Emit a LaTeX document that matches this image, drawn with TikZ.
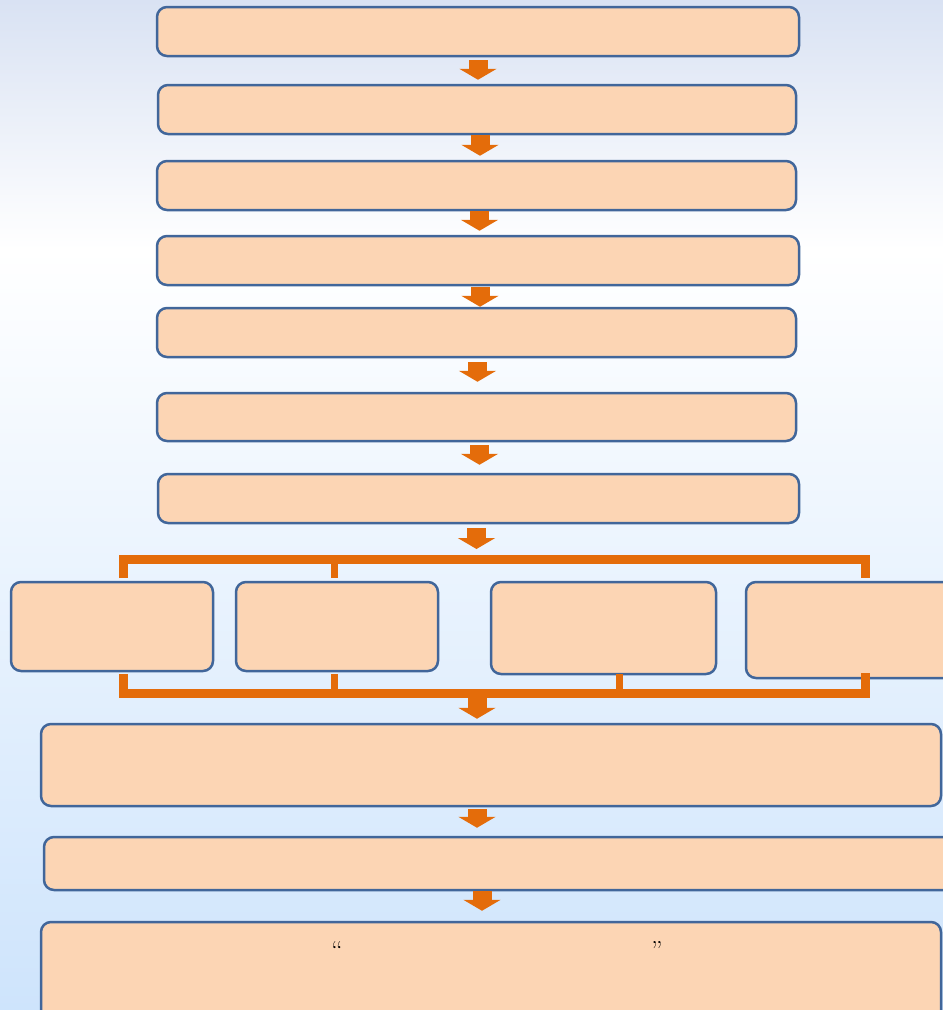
\documentclass[tikz,border=0pt]{standalone}
\usetikzlibrary{arrows.meta,fit}

\definecolor{boxfill}{HTML}{FCD5B4}
\definecolor{boxline}{HTML}{41669A}
\definecolor{flow}{HTML}{E46C0A}
\definecolor{bgtop}{HTML}{D9E2F3}
\definecolor{bgbottom}{HTML}{CEE4FC}

\tikzset{
  stepbox/.style={draw=boxline, fill=boxfill, line width=2.5pt, rounded corners=10pt, inner sep=0pt},
  downarrow/.style={flow, line width=19pt, -{Triangle[width=37pt,length=11pt]}},
  bracketbar/.style={flow, line width=9pt},
  bracketleg/.style={flow, line width=7pt},
}

\begin{document}
\begin{tikzpicture}[x=1pt, y=-1pt]
  % 1. Page and background
  \useasboundingbox (0,0) rectangle (943,1010);
  \shade[top color=bgtop, bottom color=white] (0,0) rectangle (943,250);
  \shade[top color=white, bottom color=bgbottom] (0,250) rectangle (943,1010);

  % --- STEP 1: THE CHAIN OF STEPS ---
  \node[stepbox, fit={(157,7) (799,56)}] (s1) {};
  \node[stepbox, fit={(158,85) (796,134)}] (s2) {};
  \node[stepbox, fit={(157,161) (796,210)}] (s3) {};
  \node[stepbox, fit={(157,236) (799,285)}] (s4) {};
  \node[stepbox, fit={(157,308) (796,357)}] (s5) {};
  \node[stepbox, fit={(157,393) (796,441)}] (s6) {};
  \node[stepbox, fit={(158,474) (799,523)}] (s7) {};

  % arrows between them
  \draw[downarrow, shorten <=3pt, shorten >=4pt] (s1.south) -- (s1.south |- s2.north);
  \draw[downarrow, shorten <=0pt, shorten >=4pt] ([xshift=3pt]s2.south) -- ([xshift=3pt]s2.south |- s3.north);
  \draw[downarrow, shorten <=0pt, shorten >=4pt] ([xshift=3pt]s3.south) -- ([xshift=3pt]s3.south |- s4.north);
  \draw[downarrow, shorten <=1pt, shorten >=0pt] ([xshift=2pt]s4.south) -- ([xshift=2pt]s4.south |- s5.north);
  \draw[downarrow, shorten <=4pt, shorten >=10pt] ([xshift=1pt]s5.south) -- ([xshift=1pt]s5.south |- s6.north);
  \draw[downarrow, shorten <=3pt, shorten >=8pt] ([xshift=3pt]s6.south) -- ([xshift=3pt]s6.south |- s7.north);

  % --- STEP 2: THE FOUR BRANCHES ---
  \node[stepbox, fit={(11,582) (213,671)}] (b1) {};
  \node[stepbox, fit={(236,582) (438,671)}] (b2) {};
  \node[stepbox, fit={(491,582) (716,674)}] (b3) {};
  \node[stepbox, fit={(746,582) (965,678)}] (b4) {};

  % top bracket
  \coordinate (topbar) at (476,555);
  \draw[downarrow, shorten <=4pt, shorten >=6pt] ([xshift=-2pt]s7.south) -- ([xshift=-2pt]s7.south |- topbar);
  \draw[bracketbar] (123,578) -- (123,559.5) -- (865,559.5) -- (865,578);
  \draw[bracketleg] (334,559.5) -- (334,578);

  % bottom bracket
  \coordinate (botbar) at (477,698);
  \draw[bracketbar] (123,674) -- (123,693) -- (865,693) -- (865,673);
  \draw[bracketleg] (334,674) -- (334,693);
  \draw[bracketleg] (619,674) -- (619,693);

  % --- STEP 3: THE LAST STEPS ---
  \node[stepbox, fit={(41,724) (941,806)}] (s8) {};
  \node[stepbox, fit={(44,837) (960,890)}] (s9) {};
  \node[stepbox, fit={(41,922) (941,1025)}] (s10) {};

  \draw[downarrow, shorten >=4pt] (botbar) -- (botbar |- s8.north);
  \draw[downarrow, shorten <=2pt, shorten >=8pt] ([xshift=-14pt]s8.south) -- ([xshift=-14pt]s8.south |- s9.north);
  \draw[downarrow, shorten >=10pt] ([xshift=-9pt]s10.north |- s9.south) -- ([xshift=-9pt]s10.north);

  % quote marks in the last box
  \node[font=\fontsize{26}{30}\selectfont] (q1) at (337,950) {``};
  \node[font=\fontsize{26}{30}\selectfont] (q2) at (657,950) {''};
\end{tikzpicture}
\end{document}
